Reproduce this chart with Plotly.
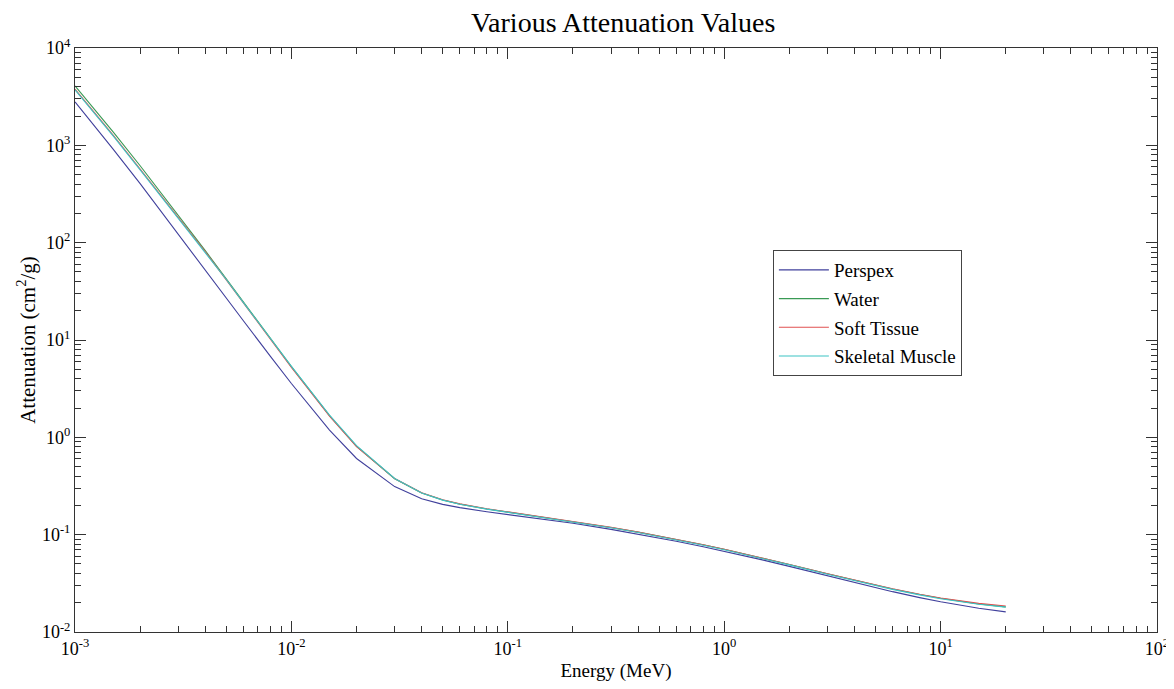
import plotly.graph_objects as go

# Energy grid (MeV)
energy = [1e-3, 1.5e-3, 2e-3, 3e-3, 4e-3, 5e-3, 6e-3, 8e-3, 1e-2, 1.5e-2, 2e-2,
          3e-2, 4e-2, 5e-2, 6e-2, 8e-2, 0.1, 0.15, 0.2, 0.3, 0.4, 0.5, 0.6, 0.8,
          1.0, 1.25, 1.5, 2.0, 3.0, 4.0, 5.0, 6.0, 8.0, 10.0, 15.0, 20.0]

# Mass attenuation coefficients (cm^2/g)
perspex = [2794, 915.7, 403.4, 123.2, 52.53, 27.04, 15.77, 6.781, 3.574, 1.186, 0.6061,
           0.3116, 0.2344, 0.2047, 0.1897, 0.1719, 0.1614, 0.1434, 0.1308, 0.1134, 0.1015,
           0.09268, 0.0857, 0.07526, 0.06768, 0.0605, 0.05503, 0.0472, 0.03777, 0.03223,
           0.02856, 0.02597, 0.02257, 0.02042, 0.01751, 0.01609]
water = [4078, 1376, 617.3, 192.9, 82.78, 42.58, 24.64, 10.37, 5.329, 1.673, 0.8096,
         0.3756, 0.2683, 0.2269, 0.2059, 0.1837, 0.1707, 0.1505, 0.137, 0.1186, 0.1061,
         0.09687, 0.08956, 0.07865, 0.07072, 0.06323, 0.05754, 0.04942, 0.03969, 0.03403,
         0.03031, 0.0277, 0.02429, 0.02219, 0.01941, 0.01813]
soft_tissue = [3784, 1273, 570.4, 180.9, 80.68, 41.54, 24.06, 10.14, 5.219, 1.651, 0.8037,
               0.3766, 0.2701, 0.2286, 0.2074, 0.1848, 0.1716, 0.1509, 0.1374, 0.1189, 0.1062,
               0.09693, 0.08963, 0.07869, 0.07078, 0.06325, 0.05755, 0.0494, 0.03969, 0.03406,
               0.03037, 0.02779, 0.02443, 0.02237, 0.0197, 0.01848]
skeletal_muscle = [3719, 1251, 560.5, 178.8, 79.93, 41.81, 24.22, 10.21, 5.356, 1.693, 0.8205,
                   0.3783, 0.2685, 0.2265, 0.2053, 0.1829, 0.1698, 0.1492, 0.1358, 0.1176, 0.1052,
                   0.09598, 0.08874, 0.07793, 0.07008, 0.06264, 0.057, 0.04893, 0.03929, 0.03367,
                   0.02999, 0.02741, 0.02405, 0.02197, 0.01927, 0.018]

series_names = ["Perspex", "Water", "Soft Tissue", "Skeletal Muscle"]
series_values = [perspex, water, soft_tissue, skeletal_muscle]
series_colors = ["#40409c", "#3a9a55", "#e05050", "#3cc4c4"]

x_exps = [-3, -2, -1, 0, 1, 2]
y_exps = [-2, -1, 0, 1, 2, 3, 4]

FONT = "Liberation Serif, Times New Roman, serif"

fig = go.Figure()
for i, (name, vals, col) in enumerate(zip(series_names, series_values, series_colors)):
    fig.add_trace(go.Scatter(x=energy, y=vals, mode="lines", name=name,
                             legendgroup=f"g{i}",
                             line=dict(color=col, width=1.1)))

def minor_vals(exps):
    out = []
    for e in exps[:-1]:
        for m in range(2, 10):
            out.append(m * 10 ** e)
    return out

axis_common = dict(type="log", showgrid=False, zeroline=False, showline=True,
                   linecolor="#333333", linewidth=1, mirror="allticks",
                   ticks="inside", ticklen=11, tickcolor="#333333", tickwidth=1,
                   automargin=False,
                   tickfont=dict(family=FONT, size=18, color="black"))

fig.update_xaxes(**axis_common,
                 range=[-3, 2],
                 tickmode="array",
                 tickvals=[10 ** e for e in x_exps],
                 ticktext=[f"10<sup>{e}</sup>" for e in x_exps],
                 minor=dict(tickmode="array", tickvals=minor_vals(x_exps), ticks="inside",
                            ticklen=6, tickcolor="#333333", showgrid=False),
                 title=dict(text="Energy (MeV)", font=dict(family=FONT, size=19, color="black"),
                            standoff=6))
fig.update_yaxes(**axis_common,
                 range=[-2, 4],
                 tickmode="array",
                 tickvals=[10 ** e for e in y_exps],
                 ticktext=[f"10<sup>{e}</sup>" for e in y_exps],
                 minor=dict(tickmode="array", tickvals=minor_vals(y_exps), ticks="inside",
                            ticklen=6, tickcolor="#333333", showgrid=False),
                 title=dict(text="Attenuation (cm<sup>2</sup>/g)",
                            font=dict(family=FONT, size=21, color="black"), standoff=0))

fig.update_layout(
    width=1174, height=689,
    margin=dict(l=67, r=25, t=40, b=65, autoexpand=False),
    paper_bgcolor="white", plot_bgcolor="white",
    title=dict(text="Various Attenuation Values", x=0.524, xanchor="center",
               y=0.994, yanchor="top", automargin=False,
               font=dict(family=FONT, size=28, color="black")),
    legend=dict(x=0.645, y=0.654, xanchor="left", yanchor="top",
                bordercolor="#444444", borderwidth=1, bgcolor="white",
                font=dict(family=FONT, size=19, color="black"),
                traceorder="grouped", tracegroupgap=1, itemwidth=50),
    showlegend=True,
)

fig.write_html("out.html")
